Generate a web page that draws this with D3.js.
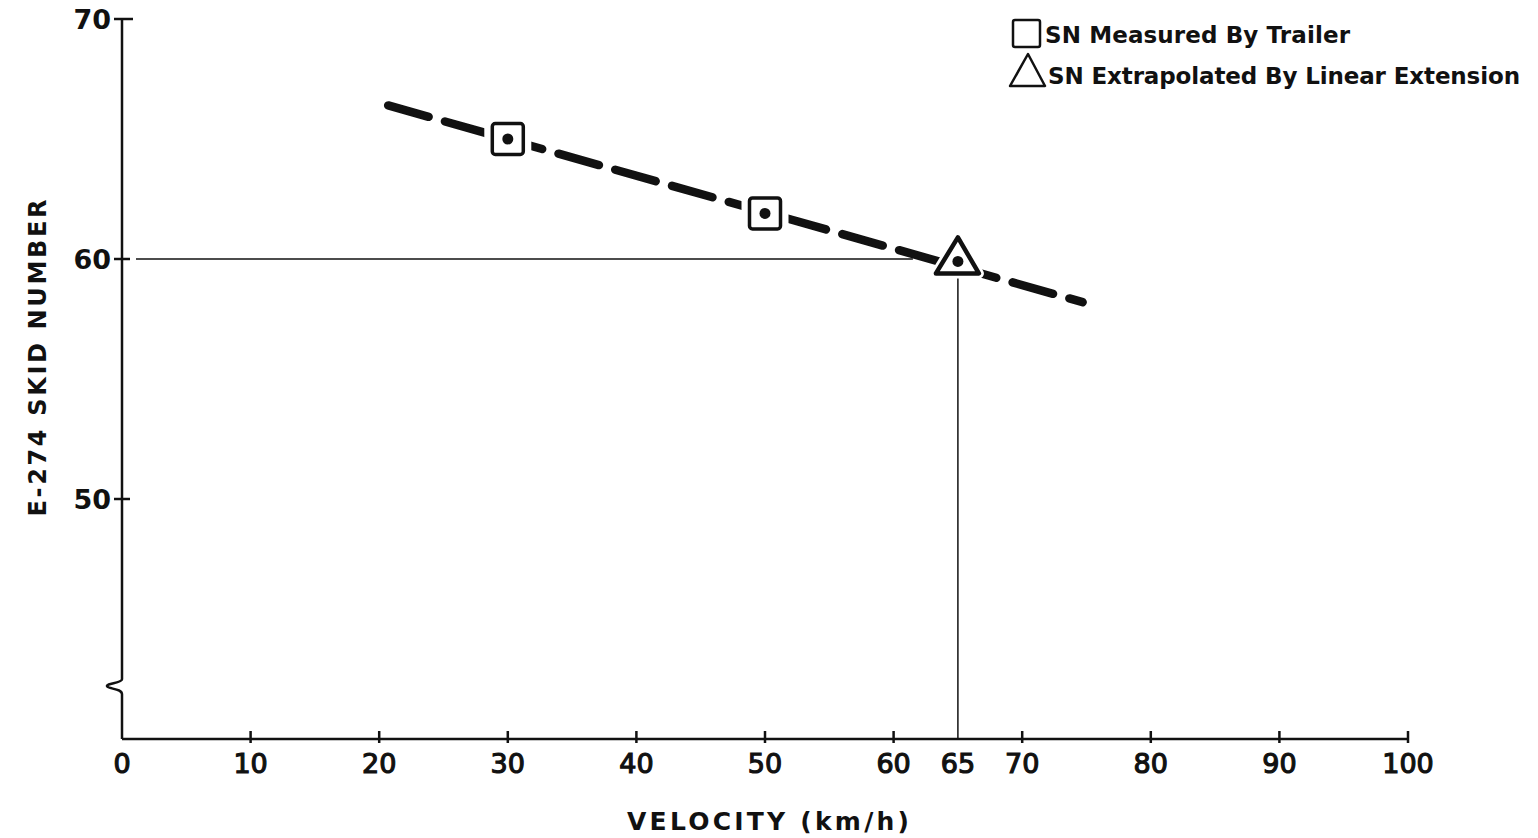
<!DOCTYPE html>
<html><head><meta charset="utf-8">
<script src="https://cdn.jsdelivr.net/npm/d3@7/dist/d3.min.js"></script>
<style>
html,body{margin:0;padding:0;background:#fff;}
text{font-family:"DejaVu Sans",sans-serif;font-weight:bold;fill:#111;}
</style></head>
<body><svg id="c" width="1538" height="838"></svg>
<script>
// Data
const xTicks = [0,10,20,30,40,50,60,65,70,80,90,100];
const yTicks = [50,60,70];
const measured = [{v:30, sn:65.0},{v:50, sn:61.9}];
const extrapolated = [{v:65, sn:59.9}];
const fitLine = [{v:20.7, sn:66.4},{v:74.7, sn:58.2}];
const refPoint = {v:65, sn:60};
const legendLabels = ["SN Measured By Trailer","SN Extrapolated By Linear Extension"];
const xTitle = "VELOCITY  (km/h)";
const yTitle = "E-274  SKID  NUMBER";

const svg = d3.select("#c");
const x = d3.scaleLinear().domain([0,100]).range([122,1408]);
const y = d3.scaleLinear().domain([40,70]).range([739,19]);
const ink = "#111";

// Y axis with break
const yBreak = y(42.2);
svg.append("path")
  .attr("d", `M${x(0)},${y(70)} L${x(0)},${yBreak-7} C${x(0)},${yBreak-3} ${x(0)-16},${yBreak-3} ${x(0)-15},${yBreak} C${x(0)-14},${yBreak+3} ${x(0)},${yBreak+2} ${x(0)},${yBreak+8} L${x(0)},${y(40)}`)
  .attr("fill","none").attr("stroke",ink).attr("stroke-width",2.5);

// Y ticks
const yAxis = svg.append("g");
yTicks.forEach(t=>{
  yAxis.append("line").attr("x1",x(0)-8).attr("x2",x(0)+ (t===70?11:8))
    .attr("y1",y(t)).attr("y2",y(t)).attr("stroke",ink).attr("stroke-width",2.5);
  yAxis.append("text").attr("x",x(0)-11).attr("y",y(t)).attr("dy","0.36em")
    .attr("text-anchor","end").attr("font-size",27).text(t);
});

// X axis
svg.append("line").attr("x1",x(0)).attr("x2",x(100)).attr("y1",y(40)).attr("y2",y(40))
  .attr("stroke",ink).attr("stroke-width",2.5);
const xAxis = svg.append("g");
xTicks.forEach(t=>{
  if(t!==0 && t!==65) xAxis.append("line").attr("x1",x(t)).attr("x2",x(t))
    .attr("y1",y(40)-8).attr("y2",y(40)+4).attr("stroke",ink).attr("stroke-width",2.5);
  xAxis.append("text").attr("x",x(t)).attr("y",y(40)+34).attr("text-anchor","middle")
    .attr("font-size",27).style("font-weight","normal")
    .attr("stroke",ink).attr("stroke-width",1.2).text(t);
});

// Titles
svg.append("text").attr("x",768).attr("y",830).attr("text-anchor","middle")
  .attr("font-size",25).attr("textLength",282).attr("lengthAdjust","spacing").text(xTitle);
svg.append("text").attr("transform","translate(46,358) rotate(-90)").attr("text-anchor","middle")
  .attr("font-size",24).attr("textLength",317).attr("lengthAdjust","spacing").text(yTitle);

// Reference lines
svg.append("line").attr("x1",x(0)+14).attr("x2",x(61.5)).attr("y1",y(refPoint.sn)).attr("y2",y(refPoint.sn))
  .attr("stroke",ink).attr("stroke-width",1.5);
svg.append("line").attr("x1",x(refPoint.v)).attr("x2",x(refPoint.v)).attr("y1",y(refPoint.sn)+16).attr("y2",y(40))
  .attr("stroke",ink).attr("stroke-width",1.5);

// Dashed fit line
const line = d3.line().x(d=>x(d.v)).y(d=>y(d.sn));
svg.append("path").datum(fitLine).attr("d",line).attr("fill","none")
  .attr("stroke",ink).attr("stroke-width",8.5).attr("stroke-linecap","round")
  .attr("stroke-dasharray","42,17");

// Measured squares (white halo separates them from the dashes)
const sq = 31;
svg.selectAll(".sqh").data(measured).enter().append("rect")
  .attr("x",d=>x(d.v)-sq/2).attr("y",d=>y(d.sn)-sq/2).attr("width",sq).attr("height",sq)
  .attr("rx",3).attr("fill","#fff").attr("stroke","#fff").attr("stroke-width",16);
svg.selectAll(".sq").data(measured).enter().append("rect")
  .attr("x",d=>x(d.v)-sq/2).attr("y",d=>y(d.sn)-sq/2).attr("width",sq).attr("height",sq)
  .attr("rx",3).attr("fill","#fff").attr("stroke",ink).attr("stroke-width",3.5);
svg.selectAll(".sqd").data(measured).enter().append("circle")
  .attr("cx",d=>x(d.v)).attr("cy",d=>y(d.sn)).attr("r",5.5).attr("fill",ink);

// Extrapolated triangle
const triPath = d=>{const cx=x(d.v), cy=y(d.sn); return `M${cx},${cy-24} L${cx+21},${cy+12} L${cx-22},${cy+12} Z`;};
svg.selectAll(".trih").data(extrapolated).enter().append("path")
  .attr("d",triPath).attr("fill","#fff").attr("stroke","#fff").attr("stroke-width",10).attr("stroke-linejoin","round");
svg.selectAll(".tri").data(extrapolated).enter().append("path")
  .attr("d",triPath).attr("fill","#fff").attr("stroke",ink).attr("stroke-width",4.5).attr("stroke-linejoin","round");
svg.selectAll(".trid").data(extrapolated).enter().append("circle")
  .attr("cx",d=>x(d.v)).attr("cy",d=>y(d.sn)).attr("r",5.5).attr("fill",ink);

// Legend
svg.append("rect").attr("x",1013).attr("y",20).attr("width",27).attr("height",27).attr("rx",2)
  .attr("fill","none").attr("stroke",ink).attr("stroke-width",2.5);
svg.append("text").attr("x",1045).attr("y",43).attr("font-size",23)
  .attr("textLength",305).attr("lengthAdjust","spacing").text(legendLabels[0]);
svg.append("path").attr("d","M1028,54 L1045,86 L1010,86 Z").attr("fill","none")
  .attr("stroke",ink).attr("stroke-width",2.5).attr("stroke-linejoin","round");
svg.append("text").attr("x",1048).attr("y",84).attr("font-size",23)
  .attr("textLength",472).attr("lengthAdjust","spacing").text(legendLabels[1]);
</script></body></html>
